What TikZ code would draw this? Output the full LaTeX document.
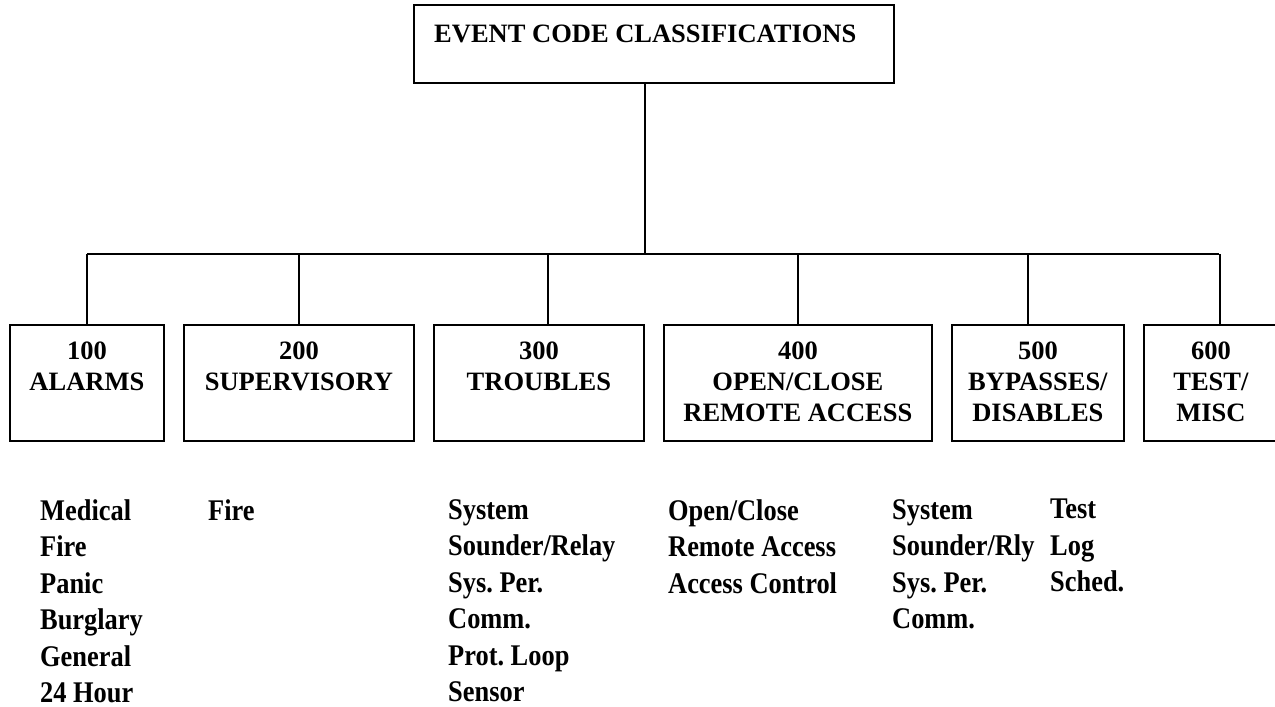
\documentclass[tikz,border=0pt]{standalone}
\usepackage{fontspec}
\setmainfont{Liberation Serif}
\newfontfamily\lstfont[FakeStretch=0.88]{Liberation Serif}
\begin{document}
\frenchspacing
\begin{tikzpicture}[x=1pt,y=-1pt,
  box/.style={draw, line width=1.8pt, inner sep=0pt, anchor=north west, minimum height=116pt},
  lbl/.style={font=\bfseries\fontsize{26.5}{31}\selectfont, align=center, inner sep=0pt, anchor=north},
  lst/.style={font=\lstfont\bfseries\fontsize{30}{36.5}\selectfont, align=left, inner sep=0pt, anchor=north west},
  conn/.style={line width=1.8pt}]
\useasboundingbox (0,0) rectangle (1275,707);
\clip (0,0) rectangle (1275,707);

% top box
\node[box, minimum width=480pt, minimum height=78pt] (top) at (413,4) {};
\node[lbl, anchor=north west] (title) at (434,25) {EVENT CODE CLASSIFICATIONS};

% category boxes
\node[box, minimum width=154pt] (b1) at (9,324) {};
\node[box, minimum width=230pt] (b2) at (183,324) {};
\node[box, minimum width=210pt] (b3) at (433,324) {};
\node[box, minimum width=268pt] (b4) at (663,324) {};
\node[box, minimum width=172pt] (b5) at (951,324) {};
\node[box, minimum width=134pt] (b6) at (1143,324) {};

\node[lbl] (t1) at ([yshift=-18pt]b1.north) {100\\ALARMS};
\node[lbl] (t2) at ([yshift=-18pt]b2.north) {200\\SUPERVISORY};
\node[lbl] (t3) at ([yshift=-18pt]b3.north) {300\\TROUBLES};
\node[lbl] (t4) at ([yshift=-18pt]b4.north) {400\\OPEN/CLOSE\\REMOTE ACCESS};
\node[lbl] (t5) at ([yshift=-18pt]b5.north) {500\\BYPASSES/\\DISABLES};
\node[lbl] (t6) at ([yshift=-18pt]b6.north) {600\\TEST/\\MISC};

% connectors
\coordinate (busL) at (87,254);
\coordinate (busR) at (1219,254);
\path ([xshift=-9pt]top.south) coordinate (c0);
\path (b1.north) coordinate (c1);
\path (b2.north) coordinate (c2);
\path ([xshift=9pt]b3.north) coordinate (c3);
\path (b4.north) coordinate (c4);
\path ([xshift=-10pt]b5.north) coordinate (c5);
\path ([xshift=9pt]b6.north) coordinate (c6);
\draw[conn] (busL) -- (busR);
\draw[conn] (c0) -- (c0 |- busL);
\foreach \c in {c1,c2,c3,c4,c5,c6} \draw[conn] (\c) -- (\c |- busL);

% lists
\node[lst] (l1) at (40,499) {Medical\\Fire\\Panic\\Burglary\\General\\24 Hour};
\node[lst] (l2) at (208,499) {Fire};
\node[lst] (l3) at (448,499) {System\\Sounder/Relay\\Sys. Per.\\Comm.\\Prot. Loop\\Sensor};
\node[lst] (l4) at (668,499) {Open/Close\\Remote Access\\Access Control};
\node[lst] (l5) at (892,499) {System\\Sounder/Rly\\Sys. Per.\\Comm.};
\node[lst] (l6) at (1050,499) {Test\\Log\\Sched.};
\end{tikzpicture}
\end{document}
